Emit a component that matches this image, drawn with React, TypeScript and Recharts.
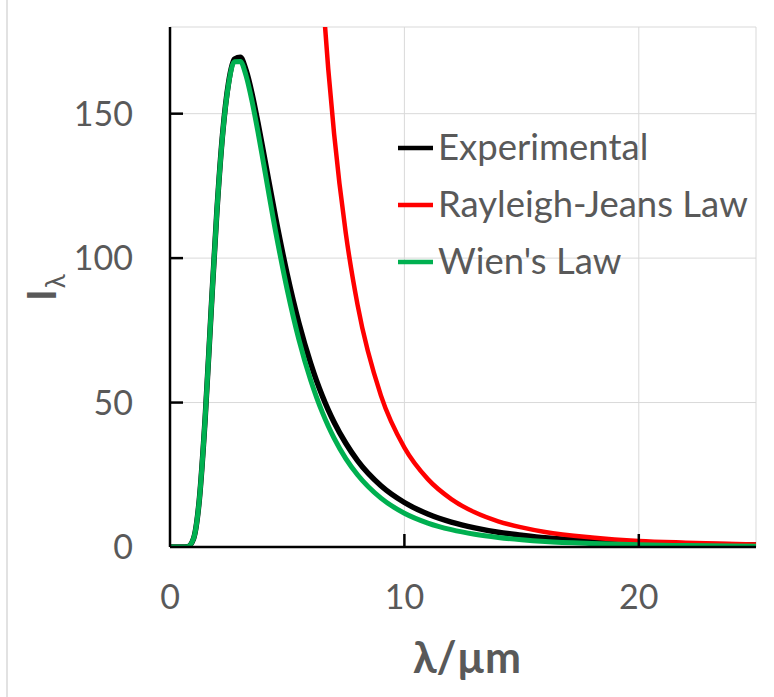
import React from 'react';
import { LineChart, Line, XAxis, YAxis, CartesianGrid, Legend } from 'recharts';

// wavelength (µm)
const wavelengths = [0, 0.5, 0.75, 1, 1.25, 1.5, 1.75, 2, 2.25, 2.5, 2.75, 3, 3.25, 3.5, 3.75, 4, 4.5, 5, 5.5, 6, 6.25, 6.5, 6.75, 7, 7.5, 8, 9, 10, 11, 12, 13, 14, 15, 16, 18, 20, 22, 25];

const experimental = [0, 0, 0.1, 2.8, 16.3, 44.5, 81.0, 116.2, 143.5, 160.8, 168.9, 169.5, 164.9, 156.9, 146.9, 136.1, 114.2, 94.4, 77.5, 63.6, 57.6, 52.3, 47.5, 43.2, 35.9, 29.9, 21.2, 15.4, 11.4, 8.6, 6.6, 5.1, 4.1, 3.2, 2.1, 1.5, 1.0, 0.7];

const rayleighJeans: (number | null)[] = [null, null, null, null, null, null, null, null, null, null, null, null, null, null, null, null, null, null, null, null, 225.2, 192.5, 165.6, 143.1, 108.6, 83.9, 52.4, 34.4, 23.5, 16.6, 12.0, 8.9, 6.8, 5.2, 3.3, 2.1, 1.5, 0.9];

const wien = [0, 0, 0.1, 2.8, 16.3, 44.5, 81.0, 116.1, 143.2, 160.3, 168.0, 168.1, 163.0, 154.3, 143.8, 132.4, 109.5, 89.1, 71.8, 57.8, 51.9, 46.6, 41.9, 37.7, 30.6, 25.0, 16.9, 11.7, 8.3, 6.0, 4.4, 3.3, 2.5, 1.9, 1.2, 0.75, 0.5, 0.3];

const xTicks = [0, 10, 20];
const yTicks = [0, 50, 100, 150];

const seriesNames = ['Experimental', 'Rayleigh-Jeans Law', "Wien's Law"];
const seriesColors = ['#000000', '#FF0000', '#00B050'];

const data = wavelengths.map((l, i) => ({
  lambda: l,
  exp: experimental[i],
  rj: rayleighJeans[i],
  wien: wien[i],
}));

const FONT = "Lato, 'Open Sans', sans-serif";
const GREY = '#595959';

const XTick = (props: any) => {
  const { x, y, payload } = props;
  return (
    <g>
      {payload.value !== 0 && (
        <line x1={x} y1={y} x2={x} y2={y - 13} stroke="#000" strokeWidth={2.5} />
      )}
      <text x={x} y={y + 62} textAnchor="middle" fontSize={34} fontFamily={FONT} fill={GREY}>
        {payload.value}
      </text>
    </g>
  );
};

const YTick = (props: any) => {
  const { x, y, payload } = props;
  return (
    <g>
      {payload.value !== 0 && (
        <line x1={x} y1={y} x2={x + 13} y2={y} stroke="#000" strokeWidth={2.5} />
      )}
      <text x={x - 37} y={y + 12} textAnchor="end" fontSize={34} fontFamily={FONT} fill={GREY}>
        {payload.value}
      </text>
    </g>
  );
};

const XTitle = (props: any) => {
  const vb = props.viewBox || {};
  const cx = vb.x + vb.width / 2 + 4;
  return (
    <text x={cx} y={673} textAnchor="middle" fontSize={43} fontWeight="bold" fontFamily={FONT} fill={GREY}>
      λ/µm
    </text>
  );
};

const YTitle = () => {
  const bx = 56;
  const by = 301;
  return (
    <text x={bx} y={by} transform={`rotate(-90 ${bx} ${by})`} fontFamily={FONT} fill={GREY}>
      <tspan fontSize={40} fontWeight="bold">I</tspan>
      <tspan fontSize={26} dy={9} dx={1}>λ</tspan>
    </text>
  );
};

const renderLegend = () => (
  <svg width={370} height={180} style={{ overflow: 'visible' }}>
    {seriesNames.map((n, i) => (
      <g key={n}>
        <line x1={0} x2={35} y1={30 + 57 * i} y2={30 + 57 * i} stroke={seriesColors[i]} strokeWidth={4.5} />
        <text x={40} y={42 + 57 * i} fontSize={36.5} fontFamily={FONT} fill={GREY}>
          {n}
        </text>
      </g>
    ))}
  </svg>
);

export default function App() {
  return (
    <div style={{ position: 'absolute', left: 0, top: 0, width: 774, height: 697, background: '#fff' }}>
      <div style={{ position: 'absolute', left: 6, top: 0, width: 2, height: 697, background: '#e2e2e2' }} />
      <LineChart width={774} height={697} data={data} margin={{ top: 27, right: 18, bottom: 0, left: 0 }}>
        <CartesianGrid stroke="#d9d9d9" strokeWidth={1} />
        <XAxis
          dataKey="lambda"
          type="number"
          domain={[0, 25]}
          ticks={xTicks}
          height={150}
          tickSize={0}
          tickMargin={0}
          tickLine={false}
          axisLine={{ stroke: '#000', strokeWidth: 2.5 }}
          tick={<XTick />}
          label={<XTitle />}
          interval={0}
        />
        <YAxis
          type="number"
          domain={[0, 180]}
          ticks={yTicks}
          allowDataOverflow
          width={170}
          tickSize={0}
          tickMargin={0}
          tickLine={false}
          axisLine={{ stroke: '#000', strokeWidth: 2.5 }}
          tick={<YTick />}
          label={<YTitle />}
          interval={0}
        />
        <Legend
          layout="vertical"
          align="center"
          verticalAlign="middle"
          content={renderLegend}
          wrapperStyle={{ left: 398, top: 118, width: 370, height: 180 }}
        />
        <Line type="monotone" dataKey="exp" name={seriesNames[0]} stroke={seriesColors[0]} strokeWidth={5.5} dot={false} isAnimationActive={false} />
        <Line type="monotone" dataKey="rj" name={seriesNames[1]} stroke={seriesColors[1]} strokeWidth={4.5} dot={false} isAnimationActive={false} />
        <Line type="monotone" dataKey="wien" name={seriesNames[2]} stroke={seriesColors[2]} strokeWidth={5} dot={false} isAnimationActive={false} />
      </LineChart>
    </div>
  );
}
